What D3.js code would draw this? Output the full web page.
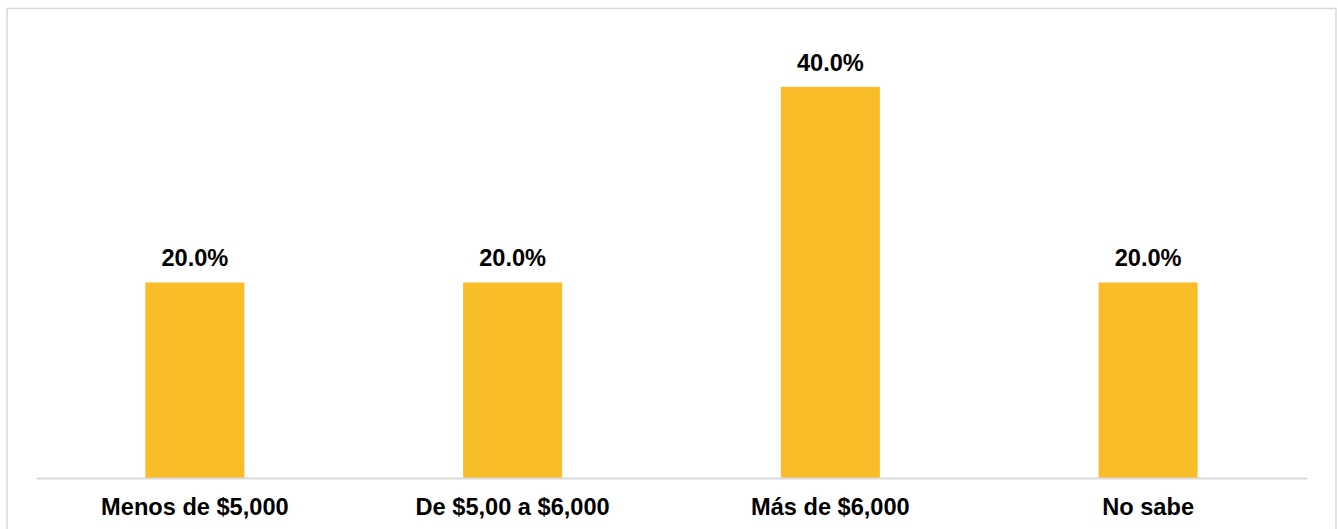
<!DOCTYPE html>
<html>
<head>
<meta charset="utf-8">
<script src="https://cdn.jsdelivr.net/npm/d3@7"></script>
<style>
  html, body { margin: 0; padding: 0; background: #fff; }
  svg { display: block; }
  text { font-family: "Liberation Sans", Arial, sans-serif; font-weight: bold; fill: #000; }
</style>
</head>
<body>
<svg id="chart" width="1338" height="529"></svg>
<script>
const categories = ["Menos de $5,000", "De $5,00 a $6,000", "Más de $6,000", "No sabe"];
const values = [0.20, 0.20, 0.40, 0.20];
const valueLabels = ["20.0%", "20.0%", "40.0%", "20.0%"];

const svg = d3.select("#chart");
const W = 1338, H = 529;

// outer frame
svg.append("rect")
  .attr("x", 7).attr("y", 8.5)
  .attr("width", 1329).attr("height", 540)
  .attr("fill", "#fff")
  .attr("stroke", "#d9d9d9").attr("stroke-width", 1.5);

const x = d3.scaleBand()
  .domain(categories)
  .range([36, 1307])
  .paddingInner(0.6884)
  .paddingOuter(0.3442);

const y = d3.scaleLinear()
  .domain([0, 0.45])
  .range([478, 38]);

const data = categories.map((c, i) => ({ c, v: values[i], l: valueLabels[i] }));

svg.append("g").selectAll("rect")
  .data(data).join("rect")
  .attr("x", d => x(d.c))
  .attr("y", d => y(d.v))
  .attr("width", x.bandwidth())
  .attr("height", d => y(0) - y(d.v))
  .attr("fill", "#F9BD2A");

// axis
const axis = d3.axisBottom(x).tickSize(0).tickPadding(0);
const gx = svg.append("g").attr("transform", `translate(0,${y(0)})`).call(axis);
gx.select(".domain").attr("stroke", "#d9d9d9").attr("stroke-width", 2);
gx.selectAll(".tick text")
  .attr("dy", null)
  .attr("y", 37)
  .style("font-size", "23.6px")
  .style("font-family", "Liberation Sans, Arial, sans-serif")
  .style("font-weight", "bold")
  .attr("fill", "#000");

// value labels
svg.append("g").selectAll("text")
  .data(data).join("text")
  .attr("x", d => x(d.c) + x.bandwidth() / 2)
  .attr("y", d => y(d.v) - 16)
  .attr("text-anchor", "middle")
  .style("font-size", "23.6px")
  .text(d => d.l);
</script>
</body>
</html>
